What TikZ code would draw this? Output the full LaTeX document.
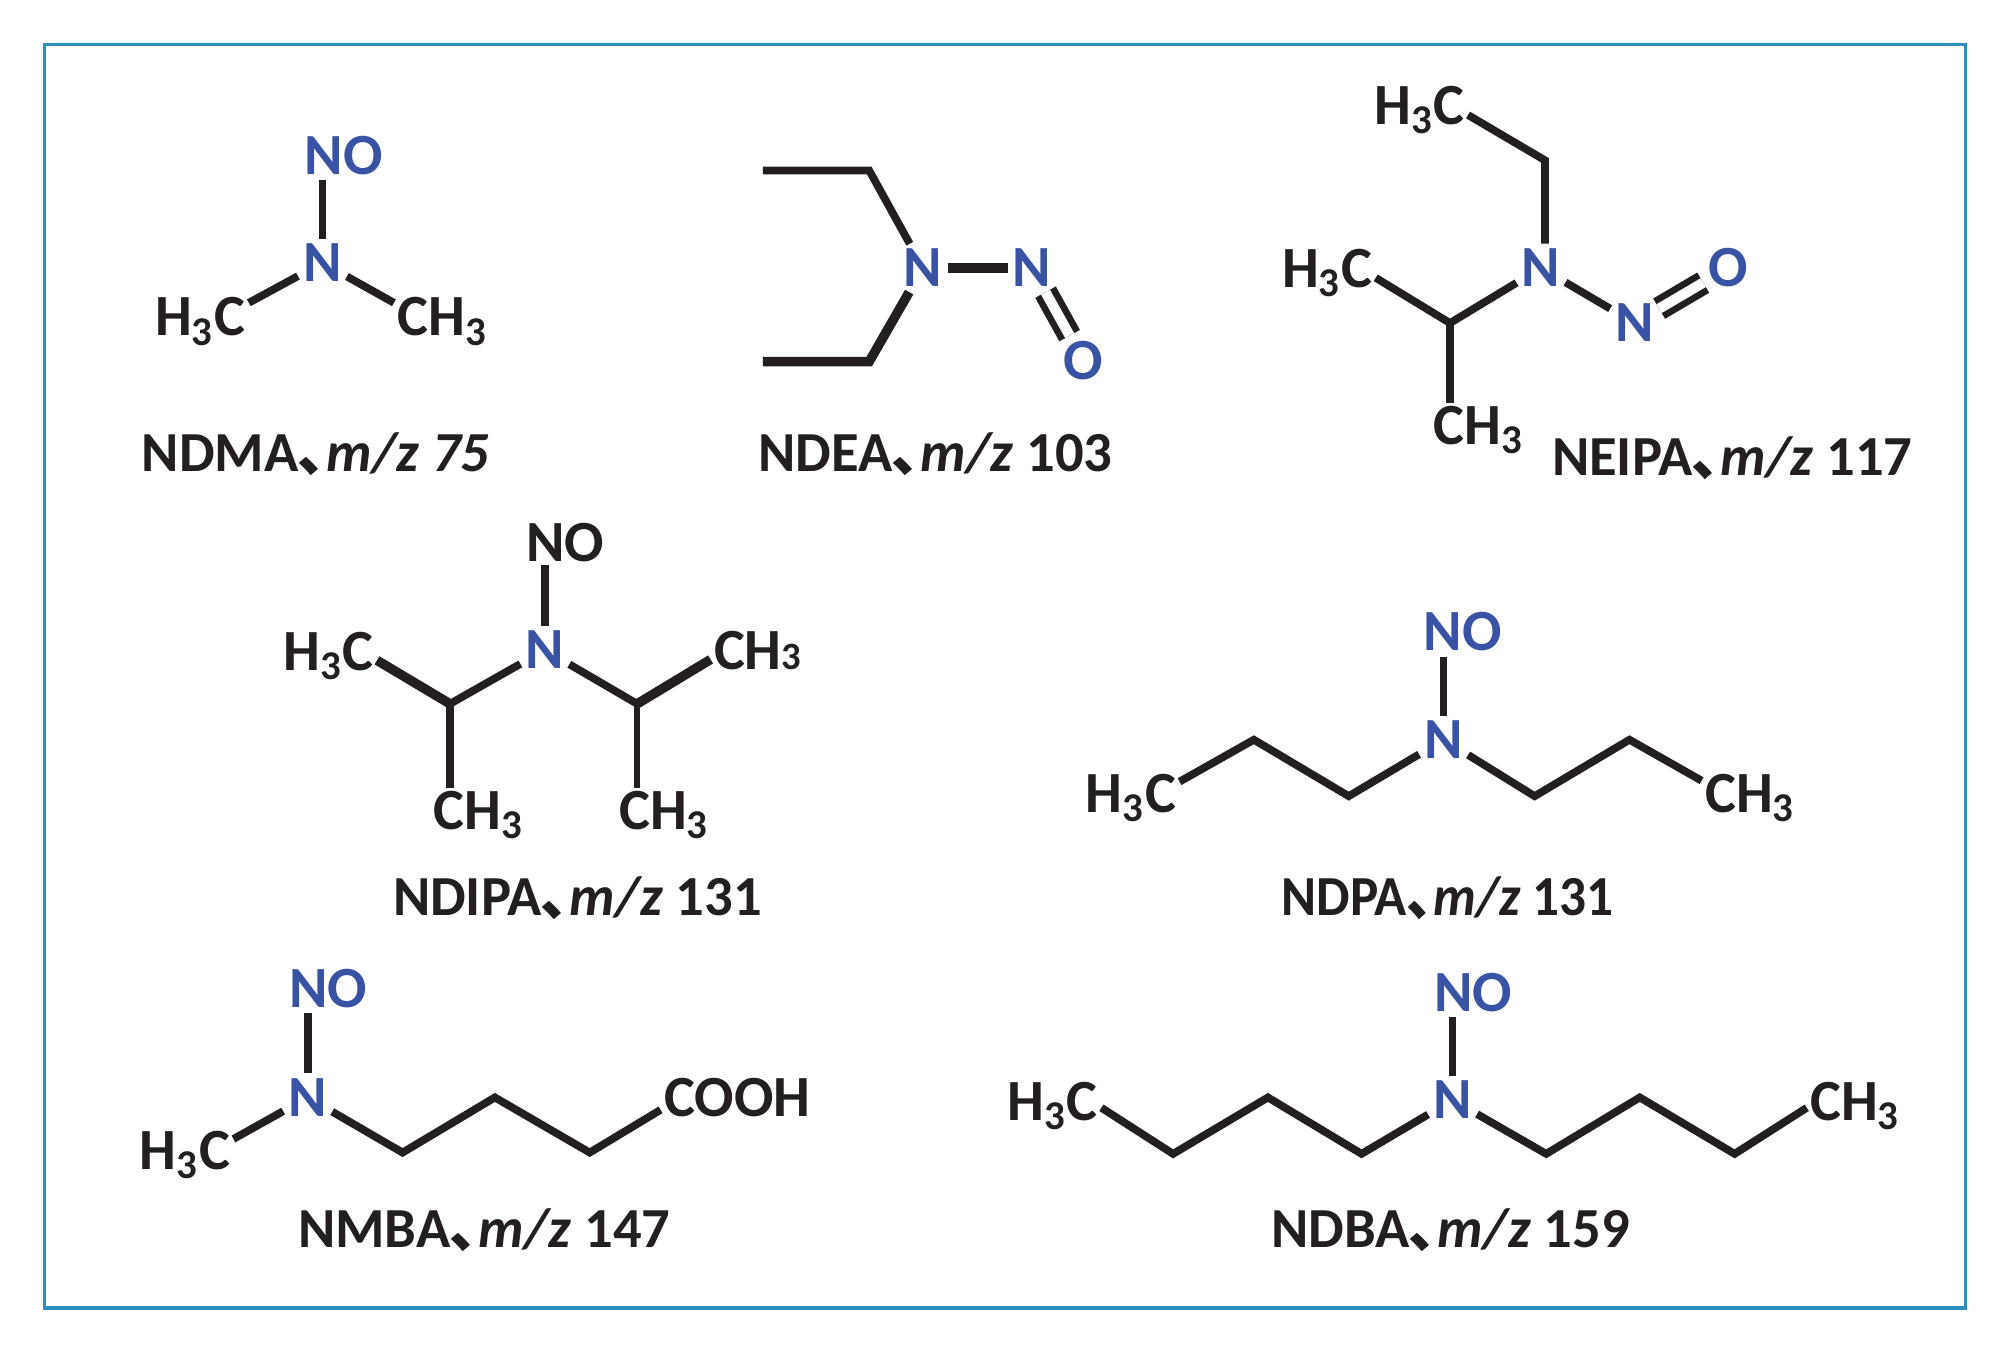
\documentclass[tikz,border=0pt]{standalone}
\usepackage{fontspec}
\setmainfont{Carlito}
\newfontfamily\cjk{Noto Sans CJK SC}
\definecolor{ink}{HTML}{231F20}
\definecolor{nitro}{HTML}{3953A4}
\definecolor{framecol}{HTML}{2E8FBF}
\newcommand{\dun}{{\cjk\char"FF64}}
\newcommand{\three}{\textsubscript{3}}
\begin{document}
\begin{tikzpicture}
    [
        x=0.01282cm,y=-0.01282cm,
        atom/.style={inner sep=0pt, outer sep=1pt, text=ink, font=\fontsize{16.6}{20}\selectfont\bfseries},
        endgroup/.style={atom, anchor=base west, xshift=-1pt},
        hetero/.style={atom, text=nitro, outer sep=1.5pt},
        caption/.style={inner sep=0pt, anchor=base west, text=ink, font=\fontsize{16.1}{18}\selectfont\bfseries},
        bond/.style={draw=ink, line width=2.2pt},
        thickbond/.style={bond, line width=2.7pt},
        thinbond/.style={bond, line width=1.6pt},
        dbond/.style={bond, line width=1.9pt, double, double distance=2.9pt},
    ]

    \useasboundingbox (0,0) rectangle (1560,1051.5);
    \node (frame) at (784,527.5) [draw=framecol, line width=0.9pt, minimum width=19.2cm, minimum height=12.63cm, inner sep=0pt] {};

    % ndma
    \node (n1)  at (251.5,205) [hetero] {N};
    \node (no1) at (268,121)   [hetero] {NO};
    \node (hc1) at (121,262)   [endgroup] {H\three C};
    \node (ch1) at (310,262)   [endgroup] {CH\three};
    \node (label1) at (110,368) [caption] {NDMA\dun\textit{m/z 75}};

    \path[bond]
    (n1) edge (n1 |- no1.south)
    (n1) edge (hc1.21)
    (n1) edge (ch1.159);

    % ndea
    \coordinate (e1) at (595,133);
    \coordinate (e2) at (678,133);
    \coordinate (e3) at (678,282);
    \coordinate (e4) at (595,282);
    \node (n2)  at (720,209) [hetero] {N};
    \node (n3)  at (805,209) [hetero] {N};
    \node (o2)  at (845,281) [hetero] {O};
    \node (label2) at (591,368) [caption] {NDEA\dun\textit{m/z} 103};

    \draw[bond] (e1) -- (e2) -- (n2);
    \draw[thickbond] (e4) -- (e3) -- (n2);
    \draw[thickbond] (n2) -- (n3);
    \draw[dbond] (n3) -- (o2);

    % neipa
    \coordinate (p1) at (1205,125);
    \coordinate (p2) at (1131,252);
    \node (n4)  at (1202,209)  [hetero] {N};
    \node (n5)  at (1275,252)  [hetero] {N};
    \node (o4)  at (1348,209)  [hetero] {O};
    \node (hc4) at (1072,97)   [endgroup] {H\three C};
    \node (hc5) at (1000,224)  [endgroup] {H\three C};
    \node (ch4) at (1118,347)  [endgroup] {CH\three};
    \node (label4) at (1210,371) [caption] {NEIPA\dun\textit{m/z} 117};

    \draw[bond] (hc4.-6) -- (p1) -- (n4.north -| p1);
    \draw[bond] (n4) -- (p2) -- (hc5.-6);
    \draw[bond] (p2) -- (p2 |- ch4.north);
    \draw[bond] (n4) -- (n5);
    \draw[dbond] (n5) -- (o4);

    % ndipa
    \coordinate (q1) at (351,549);
    \coordinate (q2) at (497,549);
    \node (n6)  at (425,507)  [hetero] {N};
    \node (no6) at (441,423)  [atom] {NO};
    \node (hc6) at (221,523)  [endgroup] {H\three C};
    \node (ch6) at (338,647)  [endgroup] {CH\three};
    \node (ch7) at (483,647)  [endgroup] {CH\three};
    \node (ch8) at (557,522)  [endgroup] {CH{\fontsize{11}{11}\selectfont 3}};
    \node (label6) at (306,714) [caption] {NDIPA\dun\textit{m/z} 131};

    \draw[bond] (n6) -- (n6 |- no6.south);
    \draw[bond] (n6) -- (q1);
    \draw[thickbond] (q1) -- (hc6.-5);
    \draw[bond] (q1) -- (q1 |- ch6.north);
    \draw[bond] (n6) -- (q2);
    \draw[thickbond] (q2) -- (ch8.191);
    \draw[thinbond] (q2) -- (q2 |- ch7.north);

    % ndpa
    \coordinate (r1) at (1052,621);
    \coordinate (r2) at (978,577);
    \coordinate (r3) at (1197,621);
    \coordinate (r4) at (1271,577);
    \node (n7)  at (1126,577)  [hetero] {N};
    \node (no7) at (1141,493)  [hetero] {NO};
    \node (hc7) at (847,634)   [endgroup] {H\three C};
    \node (ch9) at (1330,634)  [endgroup] {CH\three};
    \node (label7) at (999,714) [caption] {\scalebox{0.94}[1]{NDPA\dun\textit{m/z} 131}};

    \draw[bond] (n7) -- (n7 |- no7.south);
    \draw[bond] (n7) -- (r1) -- (r2) -- (hc7.19);
    \draw[bond] (n7) -- (r3) -- (r4) -- (ch9.160);

    % nmba
    \coordinate (s1) at (314,899);
    \coordinate (s2) at (386,856);
    \coordinate (s3) at (460,899);
    \node (n8)  at (240,856)  [hetero] {N};
    \node (no8) at (256,771)  [hetero] {NO};
    \node (hc8) at (109,912)  [endgroup] {H\three C};
    \node (cooh) at (518,871) [endgroup] {COOH};
    \node (label8) at (232,973) [caption] {NMBA\dun\textit{m/z} 147};

    \draw[bond] (n8) -- (n8 |- no8.south);
    \draw[bond] (n8) -- (hc8.18);
    \draw[bond] (n8) -- (s1) -- (s2) -- (s3) -- (cooh.189);

    % ndba
    \coordinate (t1) at (1062,900);
    \coordinate (t2) at (989,856);
    \coordinate (t3) at (915,900);
    \coordinate (t4) at (1206,900);
    \coordinate (t5) at (1279,856);
    \coordinate (t6) at (1353,900);
    \node (n9)  at (1133,858)  [hetero] {N};
    \node (no9) at (1149,774)  [hetero] {NO};
    \node (hc9) at (786,874)   [endgroup] {H\three C};
    \node (ch10) at (1412,874) [endgroup] {CH\three};
    \node (label9) at (991,973) [caption] {NDBA\dun\textit{m/z} 159};

    \draw[bond] (n9) -- (n9 |- no9.south);
    \draw[bond] (n9) -- (t1) -- (t2) -- (t3) -- (hc9.-2);
    \draw[bond] (n9) -- (t4) -- (t5) -- (t6) -- (ch10.182);

\end{tikzpicture}
\end{document}
